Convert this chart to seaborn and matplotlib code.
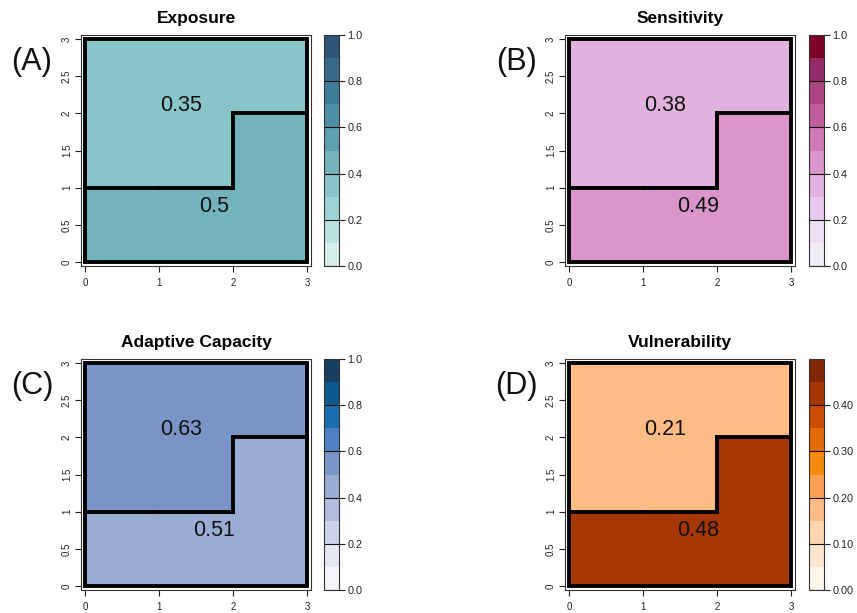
import numpy as np
import matplotlib
matplotlib.use("Agg")
import matplotlib.pyplot as plt
import seaborn as sns
from matplotlib.colors import ListedColormap, BoundaryNorm
from matplotlib.cm import ScalarMappable
from matplotlib.collections import LineCollection
from matplotlib.patches import Rectangle

sns.set_style("white")
plt.rcParams["font.family"] = ["Liberation Sans", "DejaVu Sans"]
plt.rcParams["text.color"] = "black"
plt.rcParams["xtick.color"] = "#222222"
plt.rcParams["ytick.color"] = "#222222"

titles = ["Exposure", "Sensitivity", "Adaptive Capacity", "Vulnerability"]
panel_tags = ["(A)", "(B)", "(C)", "(D)"]

# zone id of each 1x1 cell, rows listed from y = 0 upwards
zones = [[1, 1, 1],
         [0, 0, 1],
         [0, 0, 0]]

# index value of each zone (zone 0 = upper block, zone 1 = lower block)
exposure = [0.35, 0.5]
sensitivity = [0.38, 0.49]
adaptive_capacity = [0.63, 0.51]
vulnerability = [0.21, 0.48]

# legend range and labelled ticks of each index
scale_max = [1.0, 1.0, 1.0, 0.5]
cbar_ticks = [[0.0, 0.2, 0.4, 0.6, 0.8, 1.0],
              [0.0, 0.2, 0.4, 0.6, 0.8, 1.0],
              [0.0, 0.2, 0.4, 0.6, 0.8, 1.0],
              [0.0, 0.1, 0.2, 0.3, 0.4]]
cbar_fmt = ["{:.1f}", "{:.1f}", "{:.1f}", "{:.2f}"]

x_ticks = [0, 1, 2, 3]
x_labels = ["0", "1", "2", "3"]
y_ticks = [0, 0.5, 1, 1.5, 2, 2.5, 3]
y_labels = ["0", "0.5", "1", "1.5", "2", "2.5", "3"]

# ten-step sequential palettes, light to dark
palettes = [
    ["#D5EEEB", "#B8E3E0", "#9DD5D6", "#89C4C8", "#73B3BC",
     "#5FA0B0", "#4E8FA6", "#3F7E9B", "#376A8A", "#2E5677"],
    ["#F1EEF3", "#EEE0F4", "#E8CAEC", "#E2B2DF", "#DA95CB",
     "#CF79B5", "#C05E9C", "#AE4482", "#962C67", "#7D0025"],
    ["#F6F7FC", "#E6E8F4", "#CDD3E8", "#B2BCDD", "#9AACD4",
     "#7995C8", "#4C80C2", "#1A6EB0", "#0C5A8D", "#163F60"],
    ["#FEF5EB", "#FEE6CE", "#FDD5AE", "#FDBB85", "#FDA056",
     "#F68A0D", "#E56A0A", "#CC4C02", "#A63603", "#7F2704"],
]
# shading offset in class widths (cells fall into right-closed classes)
shade_offset = [0.05, 0.05, 0.8, 0.8]

values = [exposure, sensitivity, adaptive_capacity, vulnerability]

fig = plt.figure(figsize=(8.57, 6.13), dpi=100)

W, H = 857, 613
box_w, box_h = 230, 231
panels_px = [(81, 35), (565, 35), (81, 359), (565, 359)]
cbar_x = [324, 809, 324, 809]

zone_arr = np.array(zones)


def boundary_segments(z):
    segs = []
    nr, nc = z.shape
    for r in range(nr):
        for c in range(nc):
            if c + 1 < nc and z[r, c] != z[r, c + 1]:
                segs.append([(c + 1, r), (c + 1, r + 1)])
            if r + 1 < nr and z[r, c] != z[r + 1, c]:
                segs.append([(c, r + 1), (c + 1, r + 1)])
    return segs


for i in range(4):
    px, py = panels_px[i]
    ax = fig.add_axes([px / W, 1 - (py + box_h) / H, box_w / W, box_h / H])
    vals = np.array(values[i])
    grid = vals[zone_arr]
    step = scale_max[i] / len(palettes[i])
    cmap = ListedColormap(palettes[i])
    off = shade_offset[i] * step
    sns.heatmap(grid, ax=ax, cmap=cmap, vmin=off, vmax=scale_max[i] + off,
                cbar=False, xticklabels=False, yticklabels=False,
                linewidths=0)
    pad = 0.054
    ax.set_xlim(-pad, 3 + pad)
    ax.set_ylim(-pad, 3 + pad)

    # zone boundaries and outer border
    lc = LineCollection(boundary_segments(zone_arr), colors="black",
                        linewidths=2.8, capstyle="projecting")
    ax.add_collection(lc)
    ax.add_patch(Rectangle((0, 0), 3, 3, fill=False, edgecolor="black",
                           linewidth=2.8, joinstyle="miter"))

    # zone labels at the zone centroids
    for k, v in enumerate(vals):
        rr, cc = np.nonzero(zone_arr == k)
        cx, cy = (cc + 0.5).mean(), (rr + 0.5).mean()
        ax.text(cx, cy, f"{v:g}", ha="center", va="center", fontsize=15.5,
                color="#111111")

    for sp in ax.spines.values():
        sp.set_visible(True)
        sp.set_color("#333333")
        sp.set_linewidth(0.8)
    ax.set_xticks(x_ticks)
    ax.set_xticklabels(x_labels)
    ax.set_yticks(y_ticks)
    ax.set_yticklabels(y_labels, rotation=90, va="center")
    ax.tick_params(axis="both", direction="out", length=4.5, width=0.8,
                   color="#222222", labelsize=7, labelcolor="#222222", pad=2,
                   bottom=True, left=True)
    ax.tick_params(axis="x", pad=4)
    ax.set_xlabel("")
    ax.set_ylabel("")
    ax.set_title(titles[i], fontsize=12.5, fontweight="bold", pad=9,
                 color="black")

    # legend bar
    cax = fig.add_axes([cbar_x[i] / W, 1 - (py + box_h) / H, 15 / W, box_h / H])
    bounds = np.linspace(0, scale_max[i], len(palettes[i]) + 1)
    sm = ScalarMappable(norm=BoundaryNorm(bounds, cmap.N), cmap=cmap)
    cb = fig.colorbar(sm, cax=cax, ticks=cbar_ticks[i])
    cb.ax.minorticks_off()
    cb.outline.set_edgecolor("#333333")
    cb.outline.set_linewidth(0.8)
    cb.ax.set_yticklabels([cbar_fmt[i].format(t) for t in cbar_ticks[i]])
    cb.ax.tick_params(which="both", direction="out", length=4, width=0.8,
                      color="#222222", labelsize=7.8, labelcolor="#222222",
                      pad=2)
    cb.ax.tick_params(which="minor", length=0)
    for t in cbar_ticks[i]:
        cax.axhline(t, color="#111111", linewidth=0.8)

    fig.text((px - 49) / W, 1 - (py + 27) / H, panel_tags[i], fontsize=22,
             ha="center", va="center", color="#111111")

fig.savefig("out.png", dpi=100)
